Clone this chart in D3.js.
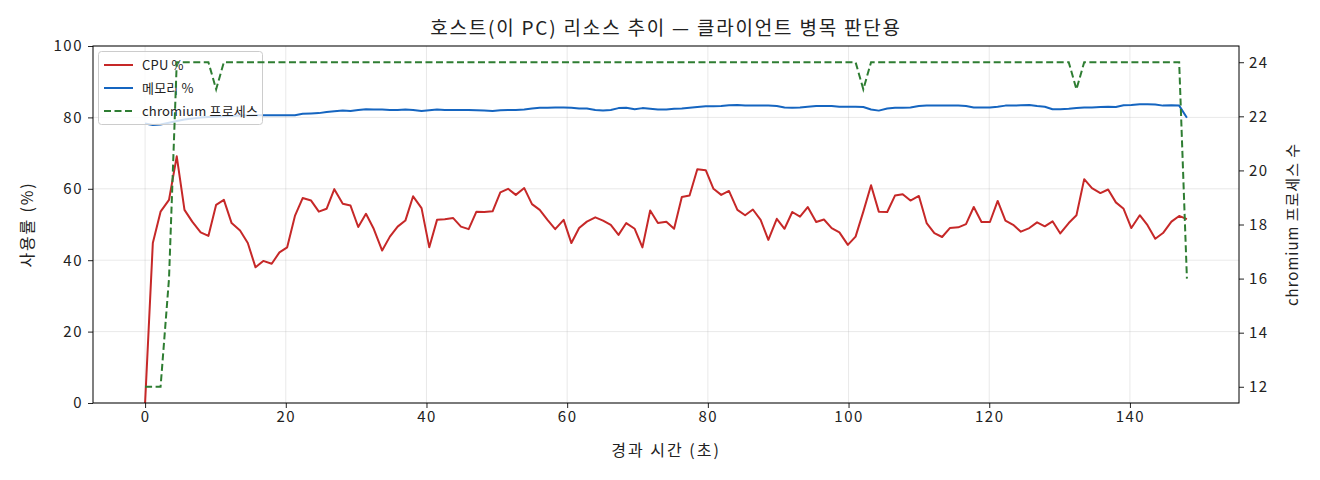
<!DOCTYPE html>
<html>
<head>
<meta charset="utf-8">
<script src="https://cdn.jsdelivr.net/npm/d3@7"></script>
<style>
  body { margin: 0; background: #fff; }
  svg text { font-family: "Noto Sans CJK KR", "Noto Sans", sans-serif; fill: #222; }
</style>
</head>
<body>
<svg width="1320" height="480"></svg>
<script>
// elapsed seconds of each sample
const T_SEC = [
  0.0, 1.1, 2.2, 3.4, 4.5, 5.6, 6.7, 7.9, 9.0, 10.1, 11.2, 12.3, 13.5, 14.6, 15.7, 16.8, 18.0, 19.1, 20.2,
  21.3, 22.4, 23.6, 24.7, 25.8, 26.9, 28.1, 29.2, 30.3, 31.4, 32.5, 33.7, 34.8, 35.9, 37.0, 38.1, 39.3, 40.4, 41.5,
  42.6, 43.8, 44.9, 46.0, 47.1, 48.2, 49.4, 50.5, 51.6, 52.7, 53.9, 55.0, 56.1, 57.2, 58.3, 59.5, 60.6, 61.7, 62.8,
  64.0, 65.1, 66.2, 67.3, 68.4, 69.6, 70.7, 71.8, 72.9, 74.1, 75.2, 76.3, 77.4, 78.5, 79.7, 80.8, 81.9, 83.0, 84.2,
  85.3, 86.4, 87.5, 88.6, 89.8, 90.9, 92.0, 93.1, 94.2, 95.4, 96.5, 97.6, 98.7, 99.9, 101.0, 102.1, 103.2, 104.3, 105.5,
  106.6, 107.7, 108.8, 110.0, 111.1, 112.2, 113.3, 114.4, 115.6, 116.7, 117.8, 118.9, 120.1, 121.2, 122.3, 123.4, 124.5, 125.7, 126.8,
  127.9, 129.0, 130.1, 131.3, 132.4, 133.5, 134.6, 135.8, 136.9, 138.0, 139.1, 140.2, 141.4, 142.5, 143.6, 144.7, 145.9, 147.0, 148.1
];
const CPU_PCT = [
  0, 44.8, 53.6, 56.9, 69.1, 54.1, 50.8, 47.8, 46.8, 55.5, 56.9, 50.4, 48.3, 44.8, 38.0, 39.8, 39.0, 42.2, 43.6,
  52.4, 57.4, 56.7, 53.6, 54.4, 59.9, 55.8, 55.3, 49.3, 53.0, 48.8, 42.7, 46.6, 49.4, 51.1, 57.9, 54.6, 43.6, 51.3, 51.5,
  51.8, 49.4, 48.7, 53.6, 53.5, 53.7, 59.0, 60.0, 58.3, 60.2, 55.7, 54.1, 51.3, 48.7, 51.3, 44.8, 49.0, 50.8,
  52.0, 51.1, 49.9, 47.1, 50.4, 48.8, 43.6, 53.9, 50.4, 50.8, 48.8, 57.7, 58.1, 65.5, 65.2, 60.0, 58.3, 59.4, 54.1,
  52.6, 54.2, 51.3, 45.7, 51.6, 48.8, 53.5, 52.2, 54.9, 50.7, 51.4, 49.0, 47.8, 44.3, 46.6, 53.6, 61.0, 53.6, 53.5,
  58.1, 58.5, 56.7, 58.0, 50.4, 47.6, 46.5, 49.0, 49.2, 50.1, 54.9, 50.7, 50.7, 56.6, 51.1, 49.9, 48.0, 49.0, 50.6,
  49.5, 50.9, 47.5, 50.4, 52.6, 62.7, 60.2, 58.8, 59.8, 56.2, 54.4, 49.0, 52.6, 49.8, 46.0, 47.6, 50.8, 52.4, 51.5
];
const MEM_PCT = [
  78.3, 77.9, 78.0, 78.5, 79.0, 79.4, 79.7, 80.0, 80.1, 80.2, 80.3, 80.4, 80.5, 80.5, 80.6, 80.6, 80.6, 80.6, 80.6,
  80.6, 81.0, 81.1, 81.2, 81.5, 81.7, 81.9, 81.8, 82.1, 82.3, 82.2, 82.2, 82.1, 82.1, 82.2, 82.1, 81.8, 82.0, 82.2,
  82.1, 82.1, 82.1, 82.1, 82.0, 81.9, 81.8, 82.0, 82.1, 82.1, 82.2, 82.5, 82.7, 82.7, 82.8, 82.8, 82.7, 82.5, 82.5,
  82.1, 81.9, 82.1, 82.6, 82.7, 82.3, 82.6, 82.4, 82.2, 82.2, 82.4, 82.5, 82.7, 82.9, 83.1, 83.1, 83.2, 83.4, 83.5,
  83.3, 83.3, 83.3, 83.3, 83.2, 82.8, 82.7, 82.8, 83.0, 83.2, 83.2, 83.2, 83.0, 83.0, 83.0, 82.9, 82.2, 81.9, 82.5,
  82.7, 82.7, 82.8, 83.2, 83.3, 83.3, 83.3, 83.3, 83.3, 83.2, 82.8, 82.8, 82.8, 83.0, 83.3, 83.3, 83.4, 83.5, 83.2,
  83.0, 82.3, 82.3, 82.4, 82.6, 82.8, 82.8, 82.9, 83.0, 82.9, 83.4, 83.5, 83.7, 83.7, 83.6, 83.3, 83.4, 83.3, 79.9
];
const PROC_COUNT = [
  12, 12, 12, 16, 24, 24, 24, 24, 24, 23, 24, 24, 24, 24, 24, 24, 24, 24, 24,
  24, 24, 24, 24, 24, 24, 24, 24, 24, 24, 24, 24, 24, 24, 24, 24, 24, 24, 24,
  24, 24, 24, 24, 24, 24, 24, 24, 24, 24, 24, 24, 24, 24, 24, 24, 24, 24, 24,
  24, 24, 24, 24, 24, 24, 24, 24, 24, 24, 24, 24, 24, 24, 24, 24, 24, 24, 24,
  24, 24, 24, 24, 24, 24, 24, 24, 24, 24, 24, 24, 24, 24, 24, 23, 24, 24, 24,
  24, 24, 24, 24, 24, 24, 24, 24, 24, 24, 24, 24, 24, 24, 24, 24, 24, 24, 24,
  24, 24, 24, 24, 23, 24, 24, 24, 24, 24, 24, 24, 24, 24, 24, 24, 24, 24, 16
];
const X_TICKS = [0, 20, 40, 60, 80, 100, 120, 140];
const Y_TICKS = [0, 20, 40, 60, 80, 100];
const R_TICKS = [12, 14, 16, 18, 20, 22, 24];
const SERIES_NAMES = ["CPU %", "메모리 %", "chromium 프로세스"];

const svg = d3.select("svg");
const margin = { top: 46, right: 81, bottom: 77, left: 93 };
const width = +svg.attr("width");
const height = +svg.attr("height");
const x0 = margin.left, x1 = width - margin.right;
const y0 = height - margin.bottom, y1 = margin.top;

const red = "#c62828", blue = "#1565c0", green = "#2e7d32";

// matplotlib-like 5% padding
const pad = (ext) => { const p = (ext[1] - ext[0]) * 0.05; return [ext[0] - p, ext[1] + p]; };

const xScale = d3.scaleLinear().domain(pad(d3.extent(T_SEC))).range([x0, x1]);
const yLeft = d3.scaleLinear().domain([0, 100]).range([y0, y1]);
const yRight = d3.scaleLinear().domain(pad(d3.extent(PROC_COUNT))).range([y0, y1]);

svg.append("rect").attr("width", width).attr("height", height).attr("fill", "#fff");

// grid
const grid = svg.append("g").attr("stroke", "#b0b0b0").attr("stroke-opacity", 0.35).attr("stroke-width", 0.8);
grid.selectAll(".gx").data(X_TICKS).enter().append("line")
  .attr("x1", d => xScale(d)).attr("x2", d => xScale(d)).attr("y1", y0).attr("y2", y1);
grid.selectAll(".gy").data(Y_TICKS).enter().append("line")
  .attr("x1", x0).attr("x2", x1).attr("y1", d => yLeft(d)).attr("y2", d => yLeft(d));

const data = T_SEC.map((t, i) => ({ t, cpu: CPU_PCT[i], mem: MEM_PCT[i], proc: PROC_COUNT[i] }));

const lineCpu = d3.line().x(d => xScale(d.t)).y(d => yLeft(d.cpu));
const lineMem = d3.line().x(d => xScale(d.t)).y(d => yLeft(d.mem));
const lineProc = d3.line().x(d => xScale(d.t)).y(d => yRight(d.proc));

svg.append("path").datum(data).attr("d", lineCpu)
  .attr("fill", "none").attr("stroke", red).attr("stroke-width", 2).attr("stroke-linejoin", "round");
svg.append("path").datum(data).attr("d", lineMem)
  .attr("fill", "none").attr("stroke", blue).attr("stroke-width", 2).attr("stroke-linejoin", "round");

// axes
const styleAxis = (g) => {
  g.select(".domain").remove();
  g.selectAll(".tick line").attr("stroke", "#222");
  g.selectAll(".tick text").attr("font-size", 15).attr("letter-spacing", 1.5).style("fill", "#222");
};
svg.append("g").attr("transform", `translate(0,${y0})`)
  .call(d3.axisBottom(xScale).tickValues(X_TICKS).tickSize(5).tickPadding(3))
  .call(styleAxis);
svg.append("g").attr("transform", `translate(${x0},0)`)
  .call(d3.axisLeft(yLeft).tickValues(Y_TICKS).tickSize(5).tickPadding(5))
  .call(styleAxis);

// legend (under the twin axis line)
const lg = svg.append("g");
lg.append("rect").attr("x", 98.5).attr("y", 51.5).attr("width", 164).attr("height", 73).attr("rx", 3)
  .attr("fill", "#fff").attr("fill-opacity", 0.8).attr("stroke", "#ccc");
const legendColors = [red, blue, green];
SERIES_NAMES.forEach((name, i) => {
  const yy = 65 + i * 23;
  lg.append("line").attr("x1", 104).attr("x2", 133).attr("y1", yy).attr("y2", yy)
    .attr("stroke", legendColors[i]).attr("stroke-width", 2)
    .attr("stroke-dasharray", i === 2 ? "7,3.5" : null);
  lg.append("text").attr("x", 142).attr("y", yy).attr("dy", "0.35em")
    .attr("font-size", 13).attr("letter-spacing", 0.2).text(name);
});

// twin axis line
svg.append("path").datum(data).attr("d", lineProc)
  .attr("fill", "none").attr("stroke", green).attr("stroke-width", 2)
  .attr("stroke-dasharray", "7,3.5");

svg.append("g").attr("transform", `translate(${x1},0)`)
  .call(d3.axisRight(yRight).tickValues(R_TICKS).tickSize(5).tickPadding(5))
  .call(styleAxis);

// frame
svg.append("rect").attr("x", x0).attr("y", y1).attr("width", x1 - x0).attr("height", y0 - y1)
  .attr("fill", "none").attr("stroke", "#000").attr("stroke-width", 1);

// texts
const cx = (x0 + x1) / 2;
svg.append("text").attr("x", cx).attr("y", 35).attr("text-anchor", "middle")
  .attr("font-size", 19).attr("letter-spacing", 1.8).text("호스트(이 PC) 리소스 추이 — 클라이언트 병목 판단용");
svg.append("text").attr("x", cx).attr("y", 456).attr("text-anchor", "middle")
  .attr("font-size", 16).attr("letter-spacing", 2).text("경과 시간 (초)");
svg.append("text").attr("transform", `translate(33,${(y0 + y1) / 2}) rotate(-90)`)
  .attr("text-anchor", "middle").attr("font-size", 16).attr("letter-spacing", 1.8).text("사용률 (%)");
svg.append("text").attr("transform", `translate(1298,${(y0 + y1) / 2}) rotate(-90)`)
  .attr("text-anchor", "middle").attr("font-size", 15).attr("letter-spacing", 1).text("chromium 프로세스 수");
</script>
</body>
</html>
